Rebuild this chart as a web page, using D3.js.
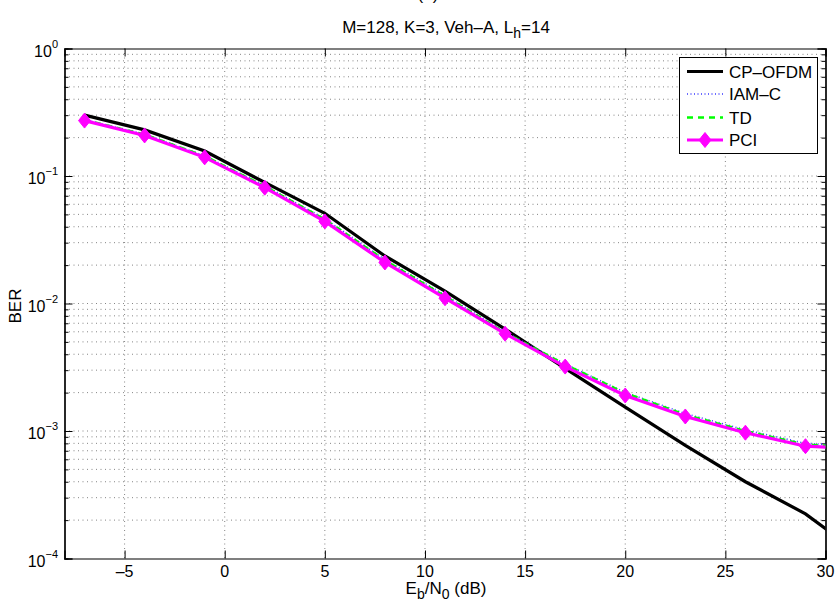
<!DOCTYPE html>
<html>
<head>
<meta charset="utf-8">
<script src="https://cdn.jsdelivr.net/npm/d3@7"></script>
<style>
  body { margin: 0; background: #fff; }
  svg { display: block; font-family: "Liberation Sans", Arial, Helvetica, sans-serif; }
</style>
</head>
<body>
<svg id="chart" width="835" height="600"></svg>
<script>
// ---- data ----
const ebn0 = [-7, -4, -1, 2, 5, 8, 11, 14, 17, 20, 23, 26, 29, 32];
const berCPOFDM = [0.300, 0.230, 0.157, 0.089, 0.051, 0.0236, 0.0125, 0.0063, 0.0031, 0.00154, 0.00077, 0.00040, 0.000224, 0.000100];
const berIAMC   = [0.277, 0.213, 0.144, 0.084, 0.0462, 0.0221, 0.0116, 0.0060, 0.00335, 0.00201, 0.00137, 0.00102, 0.00080, 0.00076];
const berTD     = [0.275, 0.211, 0.143, 0.083, 0.0456, 0.0218, 0.0114, 0.0059, 0.00332, 0.00198, 0.00134, 0.00100, 0.00078, 0.00074];
const berPCI    = [0.272, 0.208, 0.140, 0.081, 0.0440, 0.0210, 0.0110, 0.0058, 0.00320, 0.00190, 0.00130, 0.00097, 0.00076, 0.00072];
const xTicks = [-5, 0, 5, 10, 15, 20, 25, 30];
const yDecades = [1e-4, 1e-3, 1e-2, 1e-1, 1];
const yExponents = ["\u22124", "\u22123", "\u22122", "\u22121", "0"];
const seriesNames = ["CP\u2013OFDM", "IAM\u2013C", "TD", "PCI"];

// ---- layout ----
const svg = d3.select("#chart");
const L = 64.5, R = 825.5, T = 48.5, B = 558.5;
const x = d3.scaleLinear().domain([-8, 30]).range([L, R]);
const y = d3.scaleLog().domain([1e-4, 1]).range([B, T]);

svg.append("defs").append("clipPath").attr("id", "clip")
  .append("rect").attr("x", L).attr("y", T).attr("width", R - L).attr("height", B - T);

// minor y values
const yMinor = [];
for (let e = -4; e < 0; e++) for (let m = 2; m <= 9; m++) yMinor.push(m * Math.pow(10, e));

// ---- grid ----
const grid = svg.append("g").attr("stroke", "#666").attr("stroke-width", 0.8).attr("stroke-dasharray", "1,3.5").attr("fill", "none");
xTicks.filter(v => v < 30).forEach(v => grid.append("line").attr("x1", x(v)).attr("x2", x(v)).attr("y1", T).attr("y2", B));
yDecades.concat(yMinor).filter(v => v > 1e-4 && v < 1).forEach(v => grid.append("line").attr("x1", L).attr("x2", R).attr("y1", y(v)).attr("y2", y(v)));

// ---- axes (ticks inside, box) ----
const axB = svg.append("g").attr("transform", `translate(0,${B})`)
  .call(d3.axisBottom(x).tickValues(xTicks).tickSize(-8).tickFormat(""));
const axT = svg.append("g").attr("transform", `translate(0,${T})`)
  .call(d3.axisTop(x).tickValues(xTicks).tickSize(-8).tickFormat(""));
const axL = svg.append("g").attr("transform", `translate(${L},0)`)
  .call(d3.axisLeft(y).tickValues(yDecades).tickSize(-8).tickFormat(""));
const axR = svg.append("g").attr("transform", `translate(${R},0)`)
  .call(d3.axisRight(y).tickValues(yDecades).tickSize(-8).tickFormat(""));
const axLm = svg.append("g").attr("transform", `translate(${L},0)`)
  .call(d3.axisLeft(y).tickValues(yMinor).tickSize(-4).tickFormat(""));
const axRm = svg.append("g").attr("transform", `translate(${R},0)`)
  .call(d3.axisRight(y).tickValues(yMinor).tickSize(-4).tickFormat(""));
[axB, axT, axL, axR, axLm, axRm].forEach(g => {
  g.selectAll(".domain").attr("stroke", "#000").attr("stroke-width", 1.2);
  g.selectAll(".tick line").attr("stroke", "#000").attr("stroke-width", 1);
});

// x tick labels
svg.append("g").selectAll("text").data(xTicks).join("text")
  .attr("x", d => x(d)).attr("y", 577).attr("text-anchor", "middle")
  .attr("font-size", 16).attr("fill", "#000")
  .text(d => d < 0 ? "\u2013" + Math.abs(d) : String(d));

// y tick labels
svg.append("g").selectAll("text").data(yDecades).join("text")
  .attr("x", 58).attr("y", d => y(d) + 8).attr("text-anchor", "end")
  .attr("font-size", 16).attr("fill", "#000")
  .each(function(d, i) {
    const t = d3.select(this);
    t.append("tspan").text("10");
    t.append("tspan").attr("font-size", 11).attr("dy", -9).text(yExponents[i]);
  });

// ---- series ----
const line = d3.line().x((d, i) => x(ebn0[i])).y(d => y(d));
const plot = svg.append("g").attr("clip-path", "url(#clip)");
const styles = [
  { data: berCPOFDM, color: "#000000", width: 3.2, dash: null },
  { data: berIAMC,   color: "#3a3aff", width: 1.6, dash: "1,2.5" },
  { data: berTD,     color: "#00ff00", width: 2.6, dash: "6,5" },
  { data: berPCI,    color: "#ff00ff", width: 3.2, dash: null }
];
styles.forEach(s => {
  plot.append("path").datum(s.data).attr("d", line)
    .attr("fill", "none").attr("stroke", s.color).attr("stroke-width", s.width)
    .attr("stroke-dasharray", s.dash).attr("stroke-linejoin", "miter");
});
const diamond = "M0,-7.5L6,0L0,7.5L-6,0Z";
plot.append("g").selectAll("path").data(berPCI).join("path")
  .attr("transform", (d, i) => `translate(${x(ebn0[i])},${y(d)})`)
  .attr("d", diamond).attr("fill", "#ff00ff").attr("stroke", "#ff00ff").attr("stroke-width", 1);

// ---- legend ----
const lg = svg.append("g");
lg.append("rect").attr("x", 679.5).attr("y", 57.5).attr("width", 138).attr("height", 96)
  .attr("fill", "#fff").attr("stroke", "#000").attr("stroke-width", 1);
const rowY = [71.5, 94, 117.5, 140];
styles.forEach((s, i) => {
  lg.append("line").attr("x1", 687).attr("x2", 723).attr("y1", rowY[i]).attr("y2", rowY[i])
    .attr("stroke", s.color).attr("stroke-width", s.width).attr("stroke-dasharray", s.dash);
  lg.append("text").attr("x", 729).attr("y", rowY[i] + 6).attr("font-size", 17).attr("fill", "#000").text(seriesNames[i]);
});
lg.append("path").attr("transform", `translate(705,${rowY[3]})`).attr("d", diamond)
  .attr("fill", "#ff00ff").attr("stroke", "#ff00ff");

// ---- titles ----
svg.append("text").attr("x", 428).attr("y", 0).attr("text-anchor", "middle").attr("font-size", 17).text("(a)");
const title = svg.append("text").attr("x", 446).attr("y", 33).attr("text-anchor", "middle").attr("font-size", 17);
title.append("tspan").text("M=128, K=3, Veh\u2013A, L");
title.append("tspan").attr("font-size", 14).attr("dy", 5).text("h");
title.append("tspan").attr("dy", -5).text("=14");

const xl = svg.append("text").attr("x", 446).attr("y", 594).attr("text-anchor", "middle").attr("font-size", 17);
xl.append("tspan").text("E");
xl.append("tspan").attr("font-size", 14).attr("dy", 5).text("b");
xl.append("tspan").attr("dy", -5).text("/N");
xl.append("tspan").attr("font-size", 14).attr("dy", 5).text("0");
xl.append("tspan").attr("dy", -5).text(" (dB)");

svg.append("text").attr("transform", "translate(21,306) rotate(-90)").attr("text-anchor", "middle")
  .attr("font-size", 17).text("BER");
</script>
</body>
</html>
